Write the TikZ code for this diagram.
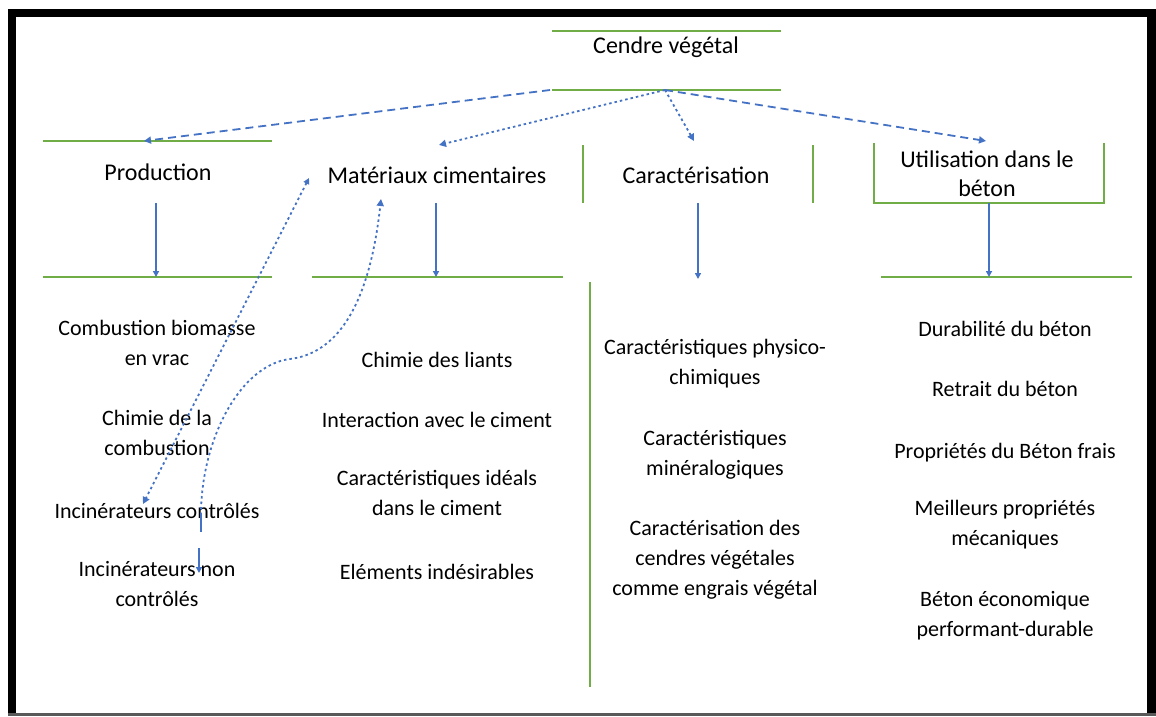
\documentclass[tikz,border=0pt]{standalone}
\usepackage{fontspec}
\setmainfont{Carlito}
\usetikzlibrary{arrows.meta}
\definecolor{ogreen}{HTML}{70AD47}
\definecolor{oblue}{HTML}{4472C4}
\begin{document}
\begin{tikzpicture}[x=1pt,y=-1pt,
  gline/.style={draw=ogreen, line width=2.2pt},
  barrow/.style={draw=oblue, line width=1.8pt, -{Triangle[length=6pt,width=6pt]}},
  dasharrow/.style={draw=oblue, line width=1.8pt, dash pattern=on 8pt off 5pt, -{Triangle[length=7pt,width=7pt]}},
  dotarrow/.style={draw=oblue, line width=1.8pt, dash pattern=on 2.5pt off 3pt, -{Triangle[length=7pt,width=7pt]}},
  head/.style={font=\fontsize{24}{32}\selectfont, align=center, inner sep=0pt,
    execute at begin node=\strut, execute at end node=\strut},
  item/.style={font=\fontsize{22}{30}\selectfont, align=center, inner sep=0pt,
    execute at begin node=\strut, execute at end node=\strut},
]
\useasboundingbox (0,0) rectangle (1156,717);
% frame
\fill[black] (8,9) rectangle (1156,17);
\fill[black] (8,9) rectangle (16,714);
\fill[black] (1147,9) rectangle (1156,714);
\fill[black!65] (8,713) rectangle (1156,716);

% headings
\node[head] (cv) at (666,47) {Cendre végétal};
\node[head] (prod) at (158,174) {Production};
\node[head] (mat) at (437,177) {Matériaux cimentaires};
\node[head] (car) at (696,177) {Caractérisation};
\node[head, font=\fontsize{24}{29}\selectfont] (util) at (987,178) {Utilisation dans le\\béton};

% green frame lines
\coordinate (cvTL) at (552,31);  \coordinate (cvTR) at (781,31);
\coordinate (cvBL) at (552,90);  \coordinate (cvBR) at (781,90);
\draw[gline] (cvTL) -- (cvTR);
\draw[gline] (cvBL) -- (cvBR);

\coordinate (prTL) at (43,141);  \coordinate (prTR) at (272,141);
\coordinate (prBL) at (43,277);  \coordinate (prBR) at (272,277);
\draw[gline] (prTL) -- (prTR);
\draw[gline] (prBL) -- (prBR);

\coordinate (maBL) at (312,277); \coordinate (maBR) at (563,277);
\draw[gline] (maBL) -- (maBR);

\draw[gline] (583,145) -- (583,203);
\draw[gline] (813,145) -- (813,203);
\coordinate (caVT) at (590,282); \coordinate (caVB) at (590,687);
\draw[gline] (caVT) -- (caVB);

\draw[gline] (874,143) -- (874,203) -- (1104,203) -- (1104,143);
\coordinate (utBL) at (881,277); \coordinate (utBR) at (1132,277);
\draw[gline] (utBL) -- (utBR);

% solid blue arrows
\coordinate (prS) at (156,203); \coordinate (prE) at (156,277);
\coordinate (maS) at (436,203); \coordinate (maE) at (436,277);
\coordinate (caS) at (698,203); \coordinate (caE) at (698,279);
\coordinate (utS) at (989,203); \coordinate (utE) at (989,277);
\draw[barrow] (prS) -- (prE);
\draw[barrow] (maS) -- (maE);
\draw[barrow] (caS) -- (caE);
\draw[barrow] (utS) -- (utE);

% dashed arrows from Cendre vegetal
\coordinate (cvA) at (550,90);
\coordinate (cvM) at (665,90);
\coordinate (prIn) at (144,141);
\coordinate (maIn) at (439,145);
\coordinate (caIn) at (694,141);
\coordinate (utIn) at (986,141);
\draw[dasharrow] (cvA) -- (prIn);
\draw[dotarrow] (cvM) -- (maIn);
\draw[dotarrow] (cvM) -- (caIn);
\draw[dasharrow] (cvM) -- (utIn);

% items
\node[item] (p1) at (157,347) {Combustion biomasse\\en vrac};
\node[item] (p2) at (157,437) {Chimie de la\\combustion};
\node[item] (p3) at (157,512) {Incinérateurs contrôlés};
\node[item] (p4) at (157,588) {Incinérateurs non\\contrôlés};

\node[item] (m1) at (437,361) {Chimie des liants};
\node[item] (m2) at (437,421) {Interaction avec le ciment};
\node[item] (m3) at (437,497) {Caractéristiques idéals\\dans le ciment};
\node[item] (m4) at (437,573) {Eléments indésirables};

\node[item] (c1) at (715,366) {Caractéristiques physico-\\chimiques};
\node[item] (c2) at (715,457) {Caractéristiques\\minéralogiques};
\node[item] (c3) at (715,562) {Caractérisation des\\cendres végétales\\comme engrais végétal};

\node[item] (u1) at (1005,330) {Durabilité du béton};
\node[item] (u2) at (1005,390) {Retrait du béton};
\node[item] (u3) at (1005,452) {Propriétés du Béton frais};
\node[item] (u4) at (1005,527) {Meilleurs propriétés\\mécaniques};
\node[item] (u5) at (1005,618) {Béton économique\\performant-durable};

% curved dotted connectors
\coordinate (aTop) at (309,178);
\coordinate (aBot) at (143,504);
\draw[dotarrow, {Triangle[length=6pt,width=6pt]}-{Triangle[length=7pt,width=7pt]}] (aTop) -- (aBot);

\coordinate (bTop) at (381,199);
\coordinate (bLow) at (201,515);
\coordinate (bEnd) at (201,532);
\draw[dotarrow] (bLow) .. controls (201,440) and (240,365) .. (290,359)
  .. controls (340,353) and (370,300) .. (bTop);
\draw[draw=oblue, line width=1.8pt] (bLow) -- (bEnd);
\coordinate (sS) at (199,548); \coordinate (sE) at (199,573);
\draw[barrow] (sS) -- (sE);
\end{tikzpicture}
\end{document}
